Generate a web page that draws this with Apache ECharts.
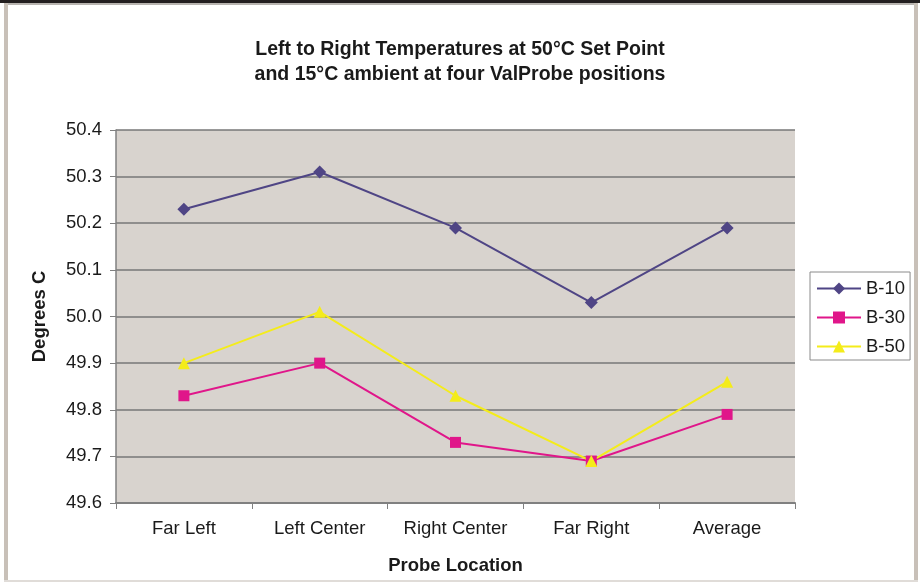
<!DOCTYPE html>
<html>
<head>
<meta charset="utf-8">
<script src="https://cdn.jsdelivr.net/npm/echarts@6/dist/echarts.min.js"></script>
<style>
  html, body { margin: 0; padding: 0; background: #fff; }
  #chart { width: 920px; height: 582px; }
</style>
</head>
<body>
<div id="chart"></div>
<script>
// probe positions along the x axis
var categories = ['Far Left', 'Left Center', 'Right Center', 'Far Right', 'Average']
// readings per ValProbe, in degrees C
var b10 = [50.23, 50.31, 50.19, 50.03, 50.19]
var b30 = [49.83, 49.90, 49.73, 49.69, 49.79]
var b50 = [49.90, 50.01, 49.83, 49.69, 49.86]
var yTicks = [49.6, 49.7, 49.8, 49.9, 50.0, 50.1, 50.2, 50.3, 50.4]

var font = "'Liberation Sans', Arial, sans-serif"
var ink = '#1a1a1a'
var chart = echarts.init(document.getElementById('chart'))

function lineSeries (name, data, color, symbol, size) {
  return {
    name: name,
    type: 'line',
    data: data,
    symbol: symbol,
    symbolSize: size,
    lineStyle: { color: color, width: 2 },
    itemStyle: { color: color },
    z: 3
  }
}

var option = {
  animation: false,
  backgroundColor: '#fff',
  textStyle: { fontFamily: font },
  title: {
    text: 'Left to Right Temperatures at 50°C Set Point\nand 15°C ambient at four ValProbe positions',
    left: 'center',
    top: 32,
    textStyle: { fontSize: 19.5, fontWeight: 'bold', color: ink, lineHeight: 25, fontFamily: font }
  },
  legend: {
    orient: 'vertical',
    left: 810,
    top: 272,
    itemWidth: 44,
    itemHeight: 15,
    itemGap: 10,
    padding: [7, 5, 4, 6],
    backgroundColor: '#fff',
    borderColor: '#8a8a8a',
    borderWidth: 1,
    borderRadius: 0,
    textStyle: { fontSize: 18.5, color: ink, fontFamily: font },
    data: ['B-10', 'B-30', 'B-50']
  },
  grid: { left: 116, right: 125, top: 130, bottom: 79 },
  xAxis: {
    type: 'category',
    data: categories,
    boundaryGap: true,
    name: 'Probe Location',
    nameLocation: 'middle',
    nameGap: 53,
    nameTextStyle: { fontSize: 18.5, fontWeight: 'bold', color: ink, fontFamily: font },
    axisLine: { lineStyle: { color: '#808080', width: 2 } },
    axisTick: { show: true, length: 6, alignWithLabel: false, lineStyle: { color: '#808080' } },
    axisLabel: { fontSize: 18.5, color: ink, margin: 16, fontFamily: font }
  },
  yAxis: {
    type: 'value',
    min: yTicks[0],
    max: yTicks[yTicks.length - 1],
    interval: 0.1,
    name: 'Degrees C',
    nameLocation: 'middle',
    nameGap: 67,
    nameTextStyle: { fontSize: 18.5, fontWeight: 'bold', color: ink, fontFamily: font },
    axisLine: { show: true, lineStyle: { color: '#808080', width: 1.5 } },
    axisTick: { show: true, length: 6, inside: false, lineStyle: { color: '#808080' } },
    axisLabel: {
      fontSize: 18.5,
      color: ink,
      margin: 14,
      fontFamily: font,
      formatter: function (v) { return v.toFixed(1) }
    },
    splitLine: { show: true, lineStyle: { color: '#777', width: 1.5 } },
    splitArea: { show: true, areaStyle: { color: ['#d8d3ce', '#d8d3ce'] } }
  },
  graphic: [
    // outer frame of the page
    { type: 'rect', shape: { x: 0, y: 0, width: 920, height: 3 }, style: { fill: '#231f20' }, silent: true },
    { type: 'rect', shape: { x: 4, y: 3, width: 912, height: 2 }, style: { fill: '#b8b4b0' }, silent: true },
    { type: 'rect', shape: { x: 4, y: 3, width: 4, height: 579 }, style: { fill: '#c8c0b8' }, silent: true },
    { type: 'rect', shape: { x: 914, y: 3, width: 4, height: 579 }, style: { fill: '#c8c0b8' }, silent: true },
    { type: 'rect', shape: { x: 4, y: 580, width: 914, height: 2 }, style: { fill: '#e0dcd8' }, silent: true }
  ],
  series: [
    lineSeries('B-10', b10, '#4f4585', 'diamond', 13),
    lineSeries('B-30', b30, '#e0168a', 'rect', 11),
    lineSeries('B-50', b50, '#f4ec1a', 'triangle', 12)
  ]
}

chart.setOption(option)
</script>
</body>
</html>
